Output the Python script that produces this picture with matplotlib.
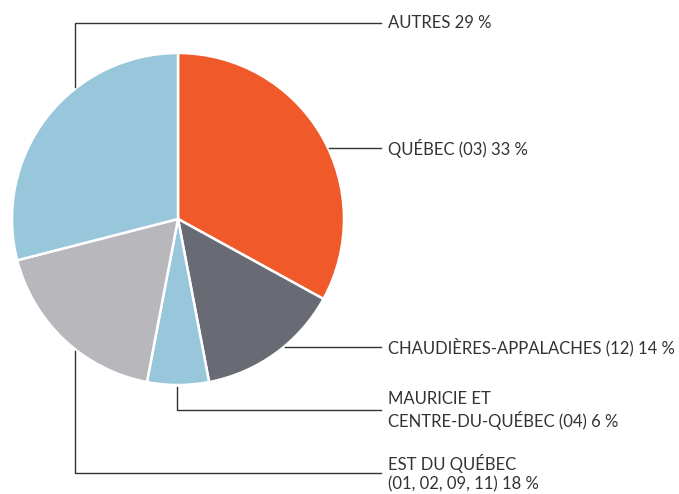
import matplotlib.pyplot as plt

labels = ["QUÉBEC (03) 33 %", "CHAUDIÈRES-APPALACHES (12) 14 %",
          "MAURICIE ET\nCENTRE-DU-QUÉBEC (04) 6 %",
          "EST DU QUÉBEC\n(01, 02, 09, 11) 18 %", "AUTRES 29 %"]
shares = [33, 14, 6, 18, 29]
colors = ["#F05A2B", "#686B73", "#98C7DB", "#B7B7BC", "#98C7DB"]

W, H = 679, 494
fig = plt.figure(figsize=(W / 100, H / 100), dpi=100)
ax = fig.add_axes([0, 0, 1, 1])

cx, cy, r = 178, H - 219, 166
ax.pie(shares, colors=colors, startangle=90, counterclock=False,
       center=(cx, cy), radius=r, frame=True,
       wedgeprops=dict(edgecolor="white", linewidth=1.8))
ax.set_xlim(0, W)
ax.set_ylim(0, H)
ax.set_aspect("equal")
ax.axis("off")

line_end = 381
text_x = 388
lc = "#333333"


def y(p):
    return H - p


def edge_x(py):
    dy = (H - py) - cy
    return cx + (r * r - dy * dy) ** 0.5


def edge_y_down(px):
    dx = px - cx
    return cy - (r * r - dx * dx) ** 0.5


def edge_y_up(px):
    dx = px - cx
    return cy + (r * r - dx * dx) ** 0.5


# QUÉBEC
ax.plot([edge_x(148) + 1, line_end], [y(148), y(148)], color=lc, lw=1)
# CHAUDIÈRES
ax.plot([edge_x(347) + 1, line_end], [y(347), y(347)], color=lc, lw=1)
# MAURICIE
ax.plot([177, 177, line_end], [edge_y_down(177) - 2, y(410), y(410)], color=lc, lw=1)
# EST
ax.plot([75, 75, line_end], [edge_y_down(75) - 2, y(473), y(473)], color=lc, lw=1)
# AUTRES
ax.plot([75, 75, line_end], [edge_y_up(75) + 2, y(23), y(23)], color=lc, lw=1)

label_y = [148, 347, 410, 473, 23]
for lab, ly in zip(labels, label_y):
    ax.text(text_x, y(ly), lab, ha="left", va="center", fontsize=12,
            family="Lato", color="#333333", linespacing=1.25)

fig.savefig("out.png", dpi=100)
